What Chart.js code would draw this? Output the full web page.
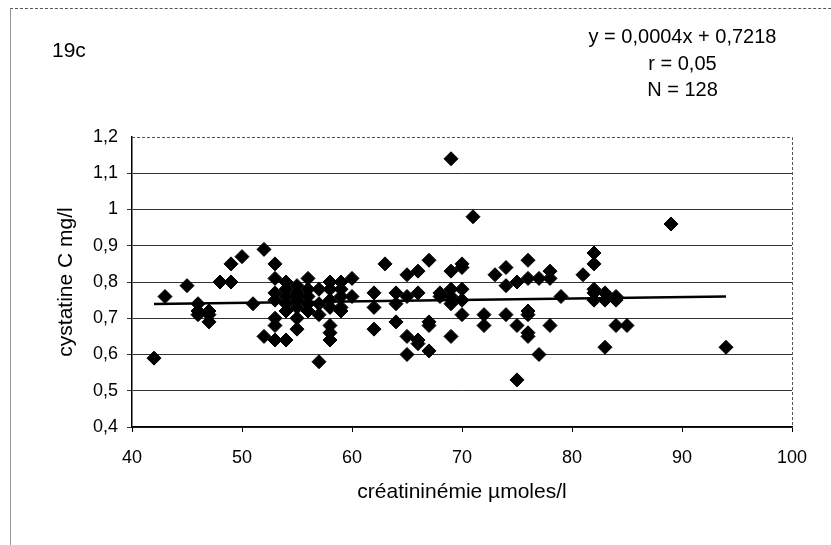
<!DOCTYPE html>
<html>
<head>
<meta charset="utf-8">
<script src="https://cdn.jsdelivr.net/npm/chart.js@4/dist/chart.umd.min.js"></script>
<style>
  html, body { margin: 0; padding: 0; background: #fff; }
  #wrap { position: relative; width: 831px; height: 545px; overflow: hidden;
          font-family: "Liberation Sans", Arial, sans-serif; color: #000; }
  #frame { position: absolute; left: 10px; top: 8px; width: 900px; height: 600px;
           border-top: 1px dashed #555; border-left: 1px solid #999; }
  #chart { position: absolute; left: 0; top: 0; }
  .lbl { position: absolute; white-space: nowrap; }
  #fig { left: 52px; top: 38px; font-size: 21px; }
  #eq  { left: 580px; top: 23px; width: 205px; text-align: center; font-size: 20px; line-height: 26.5px; }
</style>
</head>
<body>
<div id="wrap">
  <div id="frame"></div>
  <canvas id="chart" width="831" height="545"></canvas>
  <div class="lbl" id="fig">19c</div>
  <div class="lbl" id="eq">y = 0,0004x + 0,7218<br>r = 0,05<br>N = 128</div>
</div>

<script>
const creatinine = [
  42, 43, 45, 46, 46, 46, 47, 47, 47, 48, 49, 49, 50, 51, 52, 52,
  53, 53, 53, 53, 53, 53, 53,
  54, 54, 54, 54, 54, 54,
  55, 55, 55, 55, 55, 55, 55,
  56, 56, 56, 56, 56,
  57, 57, 57, 57,
  58, 58, 58, 58, 58, 58, 58,
  59, 59, 59, 59, 59,
  60, 60,
  62, 62, 62, 63,
  64, 64, 64,
  65, 65, 65, 65,
  66, 66, 66, 66,
  67, 67, 67, 67,
  68, 68,
  69, 69, 69, 69, 69, 69,
  70, 70, 70, 70, 70,
  71, 72, 72, 73,
  74, 74, 74,
  75, 75, 75,
  76, 76, 76, 76, 76, 76,
  77, 77,
  78, 78, 78,
  79, 81,
  82, 82, 82, 82, 82,
  83, 83, 83,
  84, 84, 84,
  85, 89, 94
];
const cystatine = [
  0.59, 0.76, 0.79, 0.74, 0.72, 0.71, 0.72, 0.71, 0.69, 0.80, 0.85, 0.80, 0.87, 0.74, 0.89, 0.65,
  0.85, 0.81, 0.77, 0.75, 0.70, 0.68, 0.64,
  0.80, 0.78, 0.76, 0.74, 0.72, 0.64,
  0.79, 0.77, 0.76, 0.75, 0.73, 0.70, 0.67,
  0.81, 0.78, 0.76, 0.74, 0.72,
  0.78, 0.74, 0.71, 0.58,
  0.80, 0.78, 0.75, 0.73, 0.68, 0.66, 0.64,
  0.80, 0.78, 0.76, 0.73, 0.72,
  0.81, 0.76,
  0.77, 0.73, 0.67, 0.85,
  0.77, 0.74, 0.69,
  0.82, 0.76, 0.65, 0.60,
  0.83, 0.77, 0.64, 0.63,
  0.86, 0.69, 0.68, 0.61,
  0.77, 0.76,
  1.14, 0.83, 0.78, 0.76, 0.74, 0.65,
  0.85, 0.84, 0.78, 0.75, 0.71,
  0.98, 0.71, 0.68, 0.82,
  0.84, 0.79, 0.71,
  0.80, 0.68, 0.53,
  0.86, 0.81, 0.72, 0.71, 0.66, 0.65,
  0.81, 0.60,
  0.83, 0.81, 0.68,
  0.76, 0.82,
  0.88, 0.85, 0.78, 0.77, 0.75,
  0.77, 0.75, 0.62,
  0.76, 0.75, 0.68,
  0.68, 0.96, 0.62
];
// droite de régression (extrémités)
const trendX = [42, 94];
const trendY = [0.739, 0.760];

const xTickLabels = ['40', '50', '60', '70', '80', '90', '100'];
const yTickLabels = ['0,4', '0,5', '0,6', '0,7', '0,8', '0,9', '1', '1,1', '1,2'];

/* ── Cadre pointillé haut / droite ─────────────── */
const frameBorder = {
  id: 'frameBorder',
  beforeDatasetsDraw(chart) {
    const { ctx, chartArea: { left, top, right, bottom } } = chart;
    ctx.save();
    ctx.strokeStyle = '#555';
    ctx.lineWidth = 1;
    ctx.setLineDash([3, 2]);
    ctx.beginPath();
    ctx.moveTo(left, Math.round(top) + 0.5);
    ctx.lineTo(Math.round(right) + 0.5, Math.round(top) + 0.5);
    ctx.lineTo(Math.round(right) + 0.5, bottom);
    ctx.stroke();
    ctx.restore();
  }
};

const tickFont  = { family: '"Liberation Sans", Arial, sans-serif', size: 18 };
const titleFont = { family: '"Liberation Sans", Arial, sans-serif', size: 21 };

new Chart(document.getElementById('chart'), {
  type: 'scatter',
  data: {
    datasets: [
      {
        label: 'cystatine C',
        data: creatinine.map((x, i) => ({ x, y: cystatine[i] })),
        pointStyle: 'rectRot',
        pointRadius: 7,
        backgroundColor: '#000',
        borderColor: '#000',
        borderWidth: 1,
        order: 1,
      },
      {
        type: 'line',
        label: 'tendance',
        data: trendX.map((x, i) => ({ x, y: trendY[i] })),
        borderColor: '#000',
        borderWidth: 2.5,
        pointRadius: 0,
        fill: false,
        order: 2,
      },
    ],
  },
  options: {
    responsive: false,
    animation: false,
    layout: { padding: { left: 0, top: 137, right: 39, bottom: 0 } },
    plugins: { legend: { display: false }, tooltip: { enabled: false } },
    scales: {
      x: {
        type: 'linear', min: 40, max: 100,
        ticks: { stepSize: 10, color: '#000', font: tickFont, padding: 15,
                 callback: (v) => xTickLabels[Math.round((v - 40) / 10)] },
        grid: { drawOnChartArea: false, drawTicks: true, tickLength: 5, color: '#000' },
        border: { color: '#000', width: 1.5 },
        title: { display: true, text: 'créatininémie µmoles/l', color: '#000', font: titleFont,
                 padding: { top: 0, bottom: 40 } },
        afterFit: (s) => { s.height = 118; },
      },
      y: {
        min: 0.4, max: 1.2,
        ticks: { stepSize: 0.1, color: '#000', font: tickFont, padding: 9,
                 callback: (v) => yTickLabels[Math.round((v - 0.4) * 10)] },
        grid: { tickLength: 5, lineWidth: 1,
                color: (c) => (c.tick && c.tick.value > 1.15 ? 'rgba(0,0,0,0)' : '#333') },
        border: { color: '#000', width: 1.5 },
        title: { display: true, text: 'cystatine C mg/l', color: '#000', font: titleFont,
                 padding: { top: 54, bottom: 0 } },
        afterFit: (s) => { s.width = 132; },
      },
    },
  },
  plugins: [frameBorder],
});
</script>
</body>
</html>
